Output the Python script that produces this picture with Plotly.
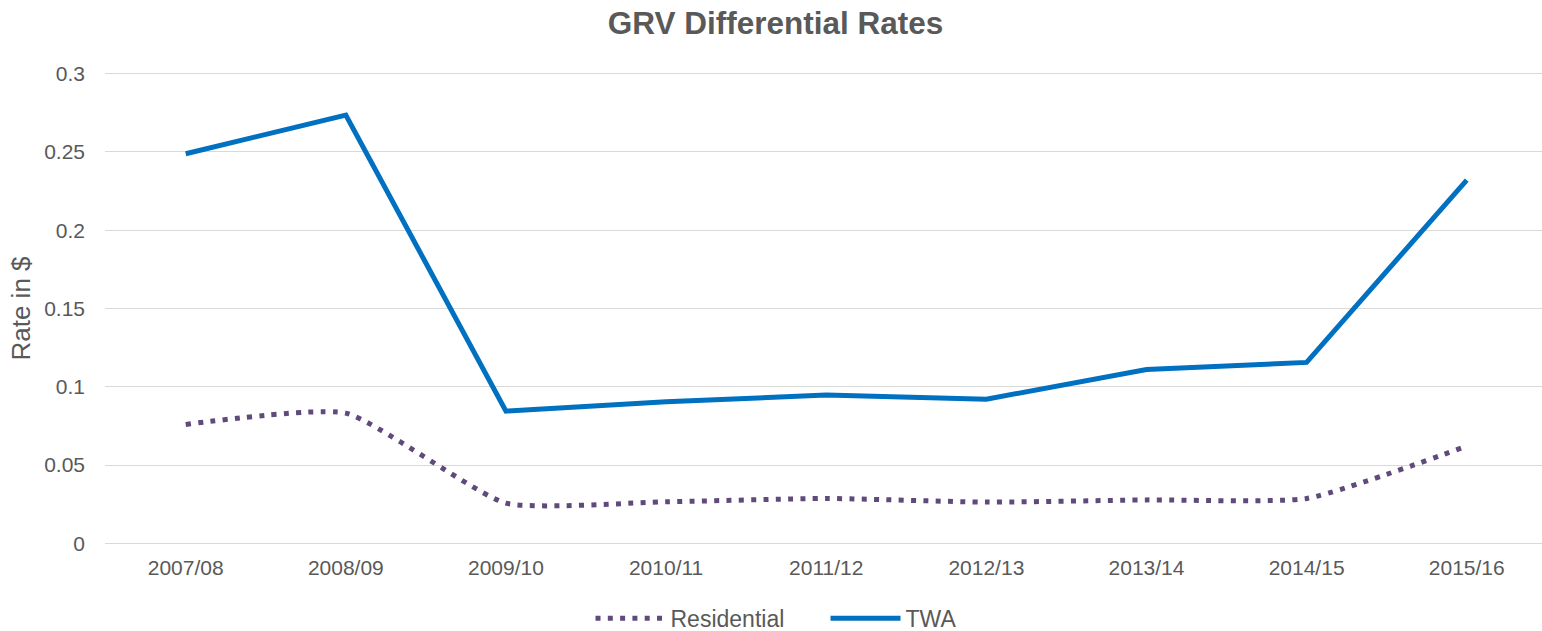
import plotly.graph_objects as go

years = ['2007/08', '2008/09', '2009/10', '2010/11', '2011/12',
         '2012/13', '2013/14', '2014/15', '2015/16']
residential = [0.0760, 0.0832, 0.0257, 0.0266, 0.0287, 0.0264, 0.0278, 0.0287, 0.0621]
twa = [0.2488, 0.2735, 0.0845, 0.0904, 0.0947, 0.0921, 0.1111, 0.1156, 0.2320]

txt = '#595959'
font = 'Liberation Sans, Arial, sans-serif'

fig = go.Figure()
fig.add_trace(go.Scatter(x=years, y=residential, mode='lines', name='Residential',
                         line=dict(color='#604A7B', width=5, dash='5px,7.3px',
                                   shape='spline', smoothing=0.5)))
fig.add_trace(go.Scatter(x=years, y=twa, mode='lines', name='TWA',
                         line=dict(color='#0070C0', width=5)))

fig.update_layout(
    width=1542, height=631, autosize=False,
    margin=dict(l=105, r=0, t=72, b=86, autoexpand=False),
    paper_bgcolor='white', plot_bgcolor='white',
    font=dict(family=font, color=txt, size=21),
    title=dict(text='GRV Differential Rates', x=0.503, xanchor='center',
               y=0.9635, yanchor='middle',
               font=dict(family=font, size=31.5, color=txt, weight=700)),
    legend=dict(orientation='h', x=0.5014, xanchor='center',
                y=-0.155, yanchor='middle', itemwidth=70, entrywidth=150,
                font=dict(size=23, color=txt)),
    showlegend=True,
)
fig.update_xaxes(range=[-0.504, 8.47], showgrid=False, showline=False,
                 ticks='', ticklabelstandoff=8, tickangle=0,
                 automargin=False,
                 tickfont=dict(size=21, color=txt))
fig.update_yaxes(range=[-0.001, 0.301], tickvals=[0, 0.05, 0.1, 0.15, 0.2, 0.25, 0.3],
                 ticktext=['0', '0.05', '0.1', '0.15', '0.2', '0.25', '0.3'],
                 showgrid=True, gridcolor='#D9D9D9', gridwidth=1.3,
                 zeroline=False, showline=False, ticks='', ticklabelstandoff=19,
                 automargin=False,
                 tickfont=dict(size=21, color=txt),
                 title=dict(text='Rate in $', standoff=6,
                            font=dict(size=26, color=txt)))

fig.write_html("out.html", config={'displayModeBar': False},
               post_script="document.body.style.margin='0';")
